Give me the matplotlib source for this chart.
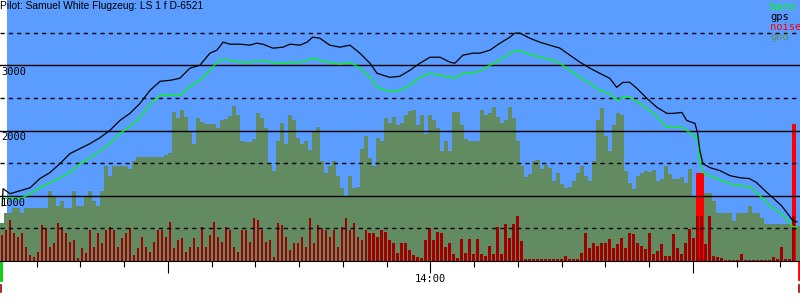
import numpy as np
import matplotlib
matplotlib.use('Agg')
import matplotlib.pyplot as plt
from matplotlib.ticker import FixedLocator, MultipleLocator, FuncFormatter

title = 'Pilot: Samuel White Flugzeug: LS 1 f D-6521'

# Flugweg: Zeit in Minuten nach 12:00, Höhe in m
track_min = [22.1, 22.3, 23.9, 26.2, 28.5, 30.7, 33.0, 35.3, 37.6, 39.9,
             42.2, 44.5, 46.7, 49.0, 51.3, 53.6, 55.9, 58.2, 60.5, 62.7,
             65.0, 67.3, 69.6, 71.2, 72.6, 74.2, 76.5, 78.7, 80.3, 81.7,
             84.0, 86.3, 87.9, 90.2, 91.8, 93.1, 94.7, 97.0, 99.3, 101.6,
             103.9, 106.2, 107.8, 110.7, 113.0, 115.3, 117.6, 119.9, 122.2, 124.5,
             125.6, 127.4, 129.7, 131.3, 133.6, 135.9, 138.2, 139.3, 140.5, 142.7,
             145.0, 147.3, 149.6, 151.9, 154.2, 156.5, 158.7, 161.0, 162.6, 164.0,
             165.6, 167.2, 169.5, 171.8, 174.1, 175.4, 177.5, 178.6, 180.5, 181.1,
             181.6, 182.3, 183.9, 186.2, 188.5, 190.7, 193.0, 194.6, 196.5, 198.3,
             200.3, 201.7, 202.9, 203.8]
gps_alt = [846, 1108, 1031, 1077, 1123, 1262, 1354, 1492, 1646, 1723,
           1800, 1892, 2000, 2154, 2262, 2415, 2615, 2754, 2769, 2800,
           2954, 3000, 3185, 3231, 3354, 3323, 3323, 3308, 3338, 3323,
           3262, 3277, 3323, 3308, 3354, 3431, 3415, 3308, 3277, 3308,
           3185, 3031, 2877, 2815, 2831, 2923, 3031, 3123, 3123, 3046,
           3031, 3154, 3185, 3185, 3231, 3338, 3431, 3492, 3492, 3415,
           3354, 3308, 3262, 3154, 3046, 2954, 2877, 2800, 2662, 2738,
           2738, 2646, 2492, 2354, 2262, 2262, 2277, 2154, 2108, 1954,
           1692, 1492, 1431, 1385, 1308, 1277, 1262, 1200, 1077, 969,
           846, 723, 615, 600]
baro_alt = [954, 954, 969, 954, 1031, 1123, 1200, 1277, 1354, 1492,
            1585, 1692, 1800, 1954, 2062, 2200, 2400, 2538, 2538, 2538,
            2677, 2769, 2923, 3046, 3092, 3077, 3046, 3046, 3062, 3062,
            3046, 3031, 3046, 3046, 3077, 3108, 3077, 3046, 3015, 3046,
            2954, 2815, 2662, 2600, 2615, 2692, 2815, 2877, 2846, 2815,
            2800, 2877, 2877, 2908, 3000, 3077, 3185, 3231, 3215, 3169,
            3123, 3092, 3031, 2923, 2815, 2723, 2615, 2569, 2462, 2508,
            2508, 2446, 2338, 2215, 2046, 2062, 2046, 2000, 1908, 1877,
            1538, 1354, 1308, 1246, 1185, 1154, 1138, 1046, 923, 815,
            723, 615, 523, 523]

# Boden und Motorgeräusch, ein Wert je Intervall
bin_start = 21.6
bin_width = 0.914
gnd_alt = [585, 738, 738, 815, 815, 738, 815, 815, 815, 815,
           815, 815, 1077, 1000, 846, 923, 815, 815, 1077, 846,
           846, 1000, 1077, 923, 846, 1077, 1462, 1308, 1462, 1462,
           1462, 1462, 1415, 1538, 1600, 1600, 1600, 1600, 1600, 1600,
           1600, 1631, 1662, 2277, 2185, 2308, 2200, 2000, 1800, 2185,
           2123, 2092, 2092, 2092, 2031, 2154, 2169, 2215, 2369, 2231,
           1846, 1831, 1831, 1877, 2262, 2185, 2031, 1508, 1385, 1846,
           2108, 1800, 2231, 2154, 1892, 1800, 1846, 1708, 2000, 2046,
           1538, 1354, 1462, 1538, 1308, 1123, 1000, 1308, 1123, 1138,
           1723, 1923, 1585, 1462, 1892, 1846, 2185, 2108, 2200, 2077,
           2108, 2231, 2292, 2308, 2077, 2231, 1954, 2231, 2154, 2031,
           1692, 1846, 1692, 2277, 2277, 2077, 1877, 1846, 1846, 1846,
           2308, 2231, 2262, 2354, 2200, 2108, 2154, 2354, 2185, 1846,
           1462, 1292, 1338, 1538, 1554, 1415, 1477, 1431, 1231, 1354,
           1185, 1123, 1138, 1231, 1354, 1462, 1308, 1231, 1538, 2154,
           2338, 1923, 1692, 2077, 2262, 2231, 1385, 1200, 1108, 1308,
           1354, 1385, 1369, 1400, 1231, 1262, 1462, 1338, 1262, 1262,
           1292, 1200, 1415, 1000, 1046, 1077, 1046, 1046, 923, 738,
           738, 738, 738, 615, 738, 738, 738, 846, 738, 738,
           662, 569, 569, 569, 569, 569, 569, 569, 569, 538]
noise = [104, 124, 164, 112, 96, 112, 56, 24, 16, 36,
         144, 132, 56, 72, 152, 136, 112, 76, 84, 12,
         52, 32, 124, 56, 112, 72, 124, 136, 124, 56,
         92, 112, 132, 24, 52, 96, 56, 36, 76, 124,
         124, 96, 156, 52, 84, 92, 36, 56, 92, 56,
         136, 56, 104, 156, 96, 76, 136, 124, 56, 36,
         124, 124, 76, 172, 164, 124, 76, 84, 16, 152,
         144, 96, 44, 72, 72, 96, 56, 172, 72, 144,
         132, 124, 96, 124, 56, 136, 172, 124, 152, 96,
         84, 124, 112, 112, 96, 124, 116, 84, 72, 32,
         72, 72, 44, 24, 16, 12, 84, 132, 84, 116,
         112, 56, 72, 28, 12, 88, 32, 88, 28, 88,
         28, 20, 60, 28, 136, 28, 148, 92, 148, 204,
         80, 8, 8, 8, 8, 8, 8, 8, 8, 8,
         8, 20, 8, 8, 8, 32, 112, 52, 72, 60,
         72, 72, 88, 52, 68, 92, 52, 112, 108, 72,
         60, 48, 112, 28, 40, 68, 20, 20, 108, 52,
         28, 72, 128, 92, 352, 352, 68, 192, 20, 16,
         12, 4, 4, 4, 4, 28, 4, 4, 4, 4,
         4, 4, 4, 16, 8, 56, 8, 8, 544, 0]
noise_full = 1040   # volle Achsenhöhe
noise_core = 180    # dunkler Anteil bei lauten Werten
loud_level = 300

sky_start = 23.2
takeoff_time = 21.8
landing_time = 204.3

sky = '#5a9cff'
gnd_col = '#628b62'

fig = plt.figure(figsize=(8, 3), dpi=100)
ax = fig.add_axes([0, 39 / 300, 1, 261 / 300])
ax.set_facecolor('white')
xt = ax.get_xaxis_transform()

ax.axvspan(sky_start, 205, color=sky, lw=0, zorder=0)

edges = bin_start + bin_width * np.arange(len(gnd_alt) + 1)
ax.stairs(gnd_alt, edges, fill=True, color=gnd_col, baseline=0, zorder=1)

centers = edges[:-1] + bin_width / 2
noise = np.array(noise)
loud = noise > loud_level
ax.bar(centers[loud], noise[loud] / noise_full, width=bin_width, color='#ff0000',
       transform=xt, zorder=1.5, lw=0)
ax.bar(centers, np.minimum(noise, noise_core) / noise_full, width=bin_width * 0.65,
       color='#a00000', transform=xt, zorder=1.6, lw=0)

ax.plot(track_min, baro_alt, color='#00ff00', lw=0.9, zorder=3)
ax.plot(track_min, gps_alt, color='black', lw=0.9, zorder=3.1)

# Markierungen unter der Achse
ax.plot([takeoff_time] * 2, [-0.005, -0.073], color='#00cc00', lw=2, transform=xt, clip_on=False)
ax.plot([takeoff_time] * 2, [-0.092, -0.119], color='#a00000', lw=1.2, transform=xt, clip_on=False)
ax.plot([landing_time] * 2, [-0.005, -0.07], color='#ff0000', lw=2, transform=xt, clip_on=False)
ax.plot([landing_time] * 2, [-0.092, -0.119], color='#a00000', lw=1.2, transform=xt, clip_on=False)

ax.set_xlim(21.6, 204.5)
ax.set_ylim(0, 4000)

# Höhenlinien
ax.yaxis.set_major_locator(FixedLocator([1000, 2000, 3000]))
ax.yaxis.set_minor_locator(FixedLocator([500, 1500, 2500, 3500]))
ax.set_axisbelow(False)
ax.grid(True, axis='y', which='major', color='black', lw=1.0, ls='-')
ax.grid(True, axis='y', which='minor', color='black', lw=1.0, ls=(0, (3, 3)))
ax.tick_params(axis='y', which='both', left=False, labelleft=False)

for v in [1000, 2000, 3000]:
    ax.annotate(str(v), xy=(0, v), xycoords=('axes fraction', 'data'),
                xytext=(1, -2), textcoords='offset pixels', va='top', ha='left',
                family='DejaVu Sans Mono', fontsize=7.5, zorder=5)

# Zeitachse
def clock(m, pos):
    h = 12 + int(round(m)) // 60
    return f'{h}:00' if h % 2 == 0 else ''

ax.xaxis.set_major_locator(FixedLocator([60, 120, 180]))
ax.xaxis.set_major_formatter(FuncFormatter(clock))
ax.xaxis.set_minor_locator(MultipleLocator(10))
ax.tick_params(axis='x', which='major', length=8.6, width=0.8, direction='out',
               labelsize=7.5, pad=1)
ax.tick_params(axis='x', which='minor', length=4.3, width=0.8, direction='out')
for lab in ax.get_xticklabels():
    lab.set_family('DejaVu Sans Mono')

for s in ['left', 'right', 'top']:
    ax.spines[s].set_visible(False)
ax.spines['bottom'].set_linewidth(0.8)

fig.text(0.0, 1 - 1 / 300, title, va='top', ha='left',
         family='Liberation Sans', fontsize=7.4)

legend_items = [('baro', '#00ff00'), ('gps', 'black'), ('noise', '#ff0000'), ('gnd', gnd_col)]
for i, (name, c) in enumerate(legend_items):
    fig.text(770 / 800, 1 - (2 + 10 * i) / 300, name, color=c, va='top', ha='left',
             family='DejaVu Sans Mono', fontsize=7.5)

fig.savefig('out.png', dpi=100)
